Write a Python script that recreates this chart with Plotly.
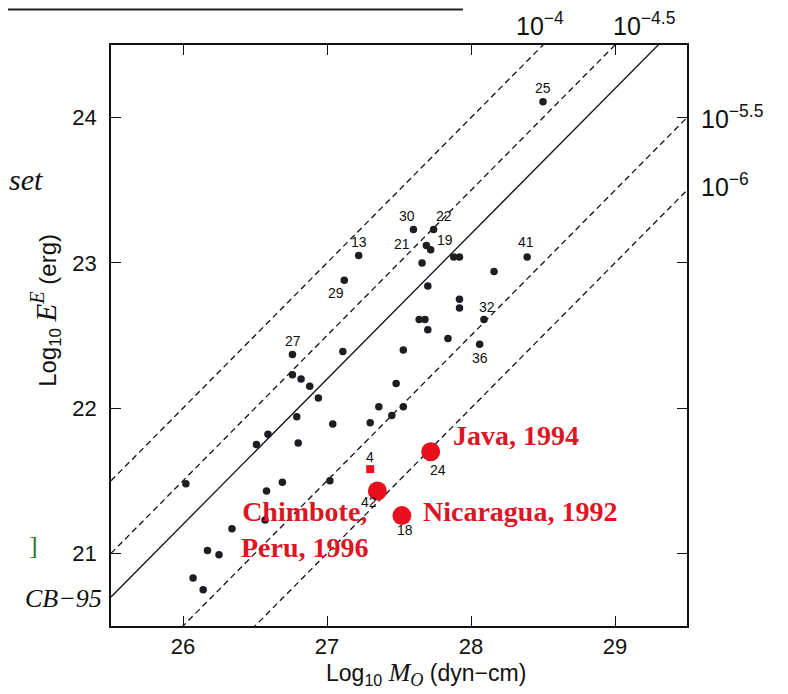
import plotly.graph_objects as go

# ---- data ----
m0_black = [27.22, 27.12, 27.60, 27.74, 27.69, 27.72, 27.66, 27.88, 27.92, 28.39,
            28.16, 27.70, 27.92, 27.92, 28.09, 27.64, 27.68, 27.70, 27.84, 28.06,
            27.53, 26.76, 27.11, 26.76, 26.82, 26.88, 26.94, 27.48, 27.36, 27.45,
            27.53, 26.79, 27.04, 27.30, 26.59, 26.51, 26.80, 26.02, 26.69, 26.58,
            27.02, 26.57, 26.34, 26.17, 26.25, 26.07, 26.14, 28.50]
ee_black = [23.05, 22.88, 23.23, 23.23, 23.12, 23.09, 23.00, 23.04, 23.04, 23.04,
            22.94, 22.84, 22.75, 22.69, 22.61, 22.61, 22.61, 22.54, 22.48, 22.44,
            22.40, 22.37, 22.39, 22.23, 22.20, 22.15, 22.07, 22.17, 22.01, 21.95,
            22.01, 21.94, 21.89, 21.90, 21.82, 21.75, 21.76, 21.48, 21.49, 21.43,
            21.50, 21.23, 21.17, 21.02, 20.99, 20.83, 20.75, 24.11]
black_labels = {0: "13", 1: "29", 2: "30", 3: "22", 4: "21", 5: "19", 9: "41",
                14: "32", 19: "36", 21: "27", 47: "25"}

m0_red = [27.30, 27.35, 27.52, 27.72]
ee_red = [21.58, 21.43, 21.26, 21.70]
red_ids = ["4", "42", "18", "24"]
red_big = [False, True, True, True]

theta_dashed = [-4.0, -4.5, -5.5, -6.0]
theta_cb95 = -4.8
x_ticks = [26, 27, 28, 29]
y_ticks = [21, 22, 23, 24]
x_range = [25.5, 29.5]
y_range = [20.5, 24.5]

# label offsets (pixels) for the event numbers
label_shift = {"13": (0, 14), "29": (-8, -13), "30": (-6, 13), "22": (10, 13),
               "21": (-24, 1), "19": (14, 10), "41": (-1, 15), "32": (3, 13),
               "36": (0, -14), "27": (1, 13), "25": (0, 14),
               "4": (0, 12), "42": (-8, -11), "18": (3, -14), "24": (7, -18)}

fig = go.Figure()

# reference lines
for th in theta_dashed:
    fig.add_trace(go.Scatter(x=x_range, y=[x_range[0] + th, x_range[1] + th],
                             mode="lines", line=dict(color="#111", width=1.3, dash="6px,4px"),
                             hoverinfo="skip", showlegend=False))
fig.add_trace(go.Scatter(x=x_range, y=[x_range[0] + theta_cb95, x_range[1] + theta_cb95],
                         mode="lines", line=dict(color="#111", width=1.3),
                         hoverinfo="skip", showlegend=False))

fig.add_trace(go.Scatter(x=m0_black, y=ee_black, mode="markers",
                         marker=dict(color="#1e1e22", size=7.5, symbol="circle", line=dict(width=0)),
                         showlegend=False))
fig.add_trace(go.Scatter(x=m0_red, y=ee_red, mode="markers",
                         marker=dict(color="#e8101c", opacity=1, line=dict(width=0),
                                     size=[19 if b else 8 for b in red_big],
                                     symbol=["circle" if b else "square" for b in red_big]),
                         showlegend=False))

ann = []
num_font = dict(family="Liberation Sans, Arial, sans-serif", size=14, color="#111")
for i, t in black_labels.items():
    dx, dy = label_shift[t]
    ann.append(dict(x=m0_black[i], y=ee_black[i], text=t, showarrow=False,
                    xshift=dx, yshift=dy, font=num_font))
for x, y, t in zip(m0_red, ee_red, red_ids):
    dx, dy = label_shift[t]
    ann.append(dict(x=x, y=y, text=t, showarrow=False, xshift=dx, yshift=dy, font=num_font))

red_font = dict(family="Liberation Serif, Times New Roman, serif", size=28, color="#dc1624")
ann.append(dict(x=m0_red[3], y=ee_red[3], text="<b>Java, 1994</b>", showarrow=False,
                xanchor="left", yanchor="middle", xshift=20, yshift=16, font=red_font))
ann.append(dict(x=m0_red[2], y=ee_red[2], text="<b>Nicaragua, 1992</b>", showarrow=False,
                xanchor="left", yanchor="middle", xshift=19, yshift=4, font=red_font))
ann.append(dict(x=m0_red[1], y=ee_red[1], text="<b>Chimbote,<br>Peru, 1996</b>", showarrow=False,
                xanchor="center", yanchor="middle", xshift=-72, yshift=-39, align="center",
                font=red_font))

sans = "Liberation Sans, Arial, sans-serif"
lab_font = dict(family=sans, size=25, color="#111")
ann += [
    dict(xref="paper", yref="paper", x=0.745, y=1.036, text="10<sup>−4</sup>",
         showarrow=False, xanchor="center", yanchor="middle", font=lab_font),
    dict(xref="paper", yref="paper", x=0.925, y=1.036, text="10<sup>−4.5</sup>",
         showarrow=False, xanchor="center", yanchor="middle", font=lab_font),
    dict(xref="paper", yref="paper", x=1.020, y=0.876, text="10<sup>−5.5</sup>",
         showarrow=False, xanchor="left", yanchor="middle", font=lab_font),
    dict(xref="paper", yref="paper", x=1.020, y=0.759, text="10<sup>−6</sup>",
         showarrow=False, xanchor="left", yanchor="middle", font=lab_font),
    dict(xref="paper", yref="paper", x=-0.012, y=0.048, text="<i>CB−95</i>",
         showarrow=False, xanchor="right", yanchor="middle",
         font=dict(family="Liberation Serif, serif", size=26, color="#111")),
    dict(xref="paper", yref="paper", x=-0.114, y=0.768, text="<i>set</i>",
         showarrow=False, xanchor="right", yanchor="middle",
         font=dict(family="Liberation Serif, serif", size=30, color="#111")),
    dict(xref="paper", yref="paper", x=-0.135, y=0.139, text="]",
         showarrow=False, xanchor="center", yanchor="middle",
         font=dict(family="Liberation Serif, serif", size=26, color="#2f7a34")),
    # axis titles (placed as text to match the reference positions)
    dict(xref="paper", yref="paper", x=-0.114, y=0.543, textangle=-90,
         text="Log<sub>10</sub> <span style='font-family:Liberation Serif;font-size:29px'><i>E<sup>E</sup></i></span> (erg)",
         showarrow=False, xanchor="center", yanchor="middle",
         font=dict(family=sans, size=24, color="#111")),
    dict(xref="paper", yref="paper", x=0.547, y=-0.082,
         text="Log<sub>10</sub> <span style='font-family:Liberation Serif;font-size:26px'><i>M<sub>O</sub></i></span> (dyn−cm)",
         showarrow=False, xanchor="center", yanchor="middle",
         font=dict(family=sans, size=23, color="#111")),
]

# page body has an 8px margin, so margins are offset to keep the plot box in place
fig.update_layout(
    width=788, height=694,
    margin=dict(l=103, r=109, t=37, b=76),
    paper_bgcolor="white", plot_bgcolor="white",
    annotations=ann,
    shapes=[
        dict(type="line", xref="paper", yref="paper", x0=-0.2, x1=0.611, y0=1.061, y1=1.061,
             line=dict(color="#222", width=2)),
    ],
)
axis_common = dict(showgrid=False, zeroline=False, showline=True, linecolor="#111",
                   linewidth=1.6, mirror="allticks", ticks="inside", ticklen=10,
                   tickwidth=1.4, tickcolor="#111",
                   tickfont=dict(family=sans, size=22, color="#111"))
fig.update_xaxes(range=x_range, tickvals=x_ticks, ticklabelstandoff=0, **axis_common)
fig.update_yaxes(range=y_range, tickvals=y_ticks, ticklabelstandoff=8, **axis_common)

fig.write_html("out.html")
